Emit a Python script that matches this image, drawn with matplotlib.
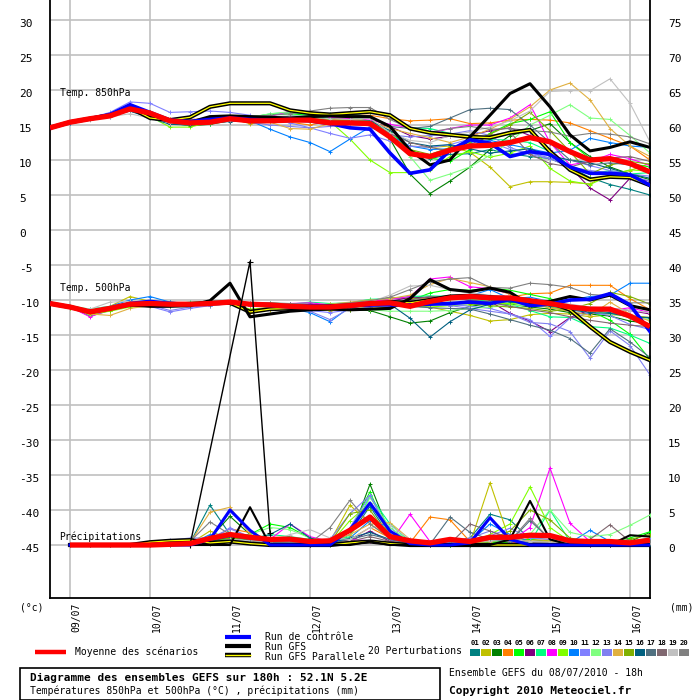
import matplotlib
matplotlib.use('Agg')
import matplotlib.pyplot as plt
from matplotlib.patches import Rectangle
from matplotlib.lines import Line2D
from matplotlib.transforms import ScaledTranslation

nan = float('nan')
hours = list(range(0, 181, 6))

dates = ['09/07', '10/07', '11/07', '12/07', '13/07', '14/07', '15/07', '16/07']
date_hours = [6, 30, 54, 78, 102, 126, 150, 174]
left_ticks = list(range(30, -50, -5))
right_ticks = list(range(75, -5, -5))

pert_names = ['%02d' % i for i in range(1, 21)]
pert_colors = ['#008080', '#c0c000', '#008000', '#ff8000', '#00ff00', '#800080', '#00ff80',
               '#ff00ff', '#80ff00', '#0080ff', '#8080ff', '#80ff80', '#8080f0', '#e0b040',
               '#80b000', '#006080', '#507080', '#806870', '#c0c0c0', '#808080']

# ---------------- Temperature 850 hPa (deg C) ----------------
mean_850 = [14.6, 15.4, 15.9, 16.3, 17.3, 16.7, 15.6, 15.3, 15.4, 15.9, 15.6, 15.6, 15.7, 15.7, 15.3, 15.3,
            15.2, 13.3, 10.9, 10.5, 11.4, 12.0, 12.1, 12.5, 13.2, 12.6, 11.2, 10.0, 10.2, 9.5, 8.3]
ctrl_850 = [14.6, 15.4, 15.9, 16.5, 17.9, 16.8, 15.7, 15.5, 15.8, 16.0, 15.8, 15.7, 15.8, 15.6, 15.2, 14.6,
            14.4, 11.0, 8.1, 8.6, 11.4, 12.9, 12.4, 10.5, 11.2, 10.8, 9.0, 8.1, 8.1, 7.9, 6.4]
gfs_850 = [14.6, 15.4, 15.9, 16.4, 17.4, 16.6, 15.5, 15.4, 16.2, 16.3, 16.2, 16.1, 16.0, 16.2, 16.3, 16.2,
           16.2, 14.8, 11.4, 9.3, 10.0, 13.3, 16.4, 19.5, 20.9, 17.6, 13.6, 11.3, 11.8, 12.6, 11.8]
par_850 = [14.6, 15.4, 15.9, 16.4, 17.5, 16.0, 15.7, 16.1, 17.6, 18.1, 18.1, 18.1, 17.1, 16.7, 16.5, 16.7,
           16.9, 16.4, 14.5, 13.9, 13.6, 13.3, 13.2, 13.9, 14.3, 11.2, 8.6, 7.2, 7.6, 7.5, 6.4]
pert_850 = [
    [14.6, 15.3, 15.8, 16.4, 17.0, 16.2, 15.4, 15.2, 15.6, 15.9, 15.5, 15.8, 16.3, 16.2, 16.0, 15.8, 15.6, 13.5, 11.0, 10.2, 10.8, 10.9, 11.5, 10.9, 10.5, 10.2, 9.0, 7.5, 6.5, 5.8, 5.0],
    [14.6, 15.4, 16.0, 16.5, 17.6, 16.8, 15.9, 15.5, 15.7, 16.0, 15.2, 15.4, 15.6, 15.5, 15.7, 15.9, 15.5, 13.0, 12.0, 11.8, 12.0, 11.1, 9.0, 6.2, 6.9, 6.9, 6.8, 6.6, 8.0, 8.5, 9.5],
    [14.6, 15.4, 15.9, 16.3, 17.2, 16.5, 15.3, 14.9, 15.1, 15.6, 15.8, 15.9, 15.6, 16.0, 15.9, 16.1, 16.0, 13.0, 8.0, 5.2, 7.0, 9.0, 11.5, 13.5, 14.2, 15.2, 12.5, 10.5, 9.0, 8.0, 7.2],
    [14.6, 15.4, 15.9, 16.5, 17.5, 16.9, 15.8, 15.8, 15.9, 15.8, 15.3, 15.5, 15.4, 15.0, 15.6, 16.4, 16.4, 15.9, 15.6, 15.7, 15.9, 15.2, 15.3, 15.7, 15.8, 15.7, 15.3, 14.2, 13.1, 12.0, 10.0],
    [14.6, 15.4, 15.9, 16.4, 17.4, 16.4, 15.3, 15.0, 15.2, 15.8, 16.2, 16.5, 16.6, 16.4, 16.1, 15.9, 15.6, 14.0, 11.5, 10.3, 9.8, 11.5, 13.8, 15.2, 15.8, 16.9, 12.5, 10.2, 10.0, 9.5, 9.0],
    [14.6, 15.4, 15.9, 16.4, 17.4, 16.8, 15.6, 15.4, 15.6, 16.0, 16.1, 16.2, 16.0, 15.8, 15.5, 15.6, 15.3, 14.8, 13.5, 13.0, 13.4, 13.5, 14.2, 14.6, 13.5, 11.5, 9.0, 6.0, 4.3, 7.4, 7.0],
    [14.6, 15.4, 15.9, 16.4, 17.3, 16.5, 15.4, 15.2, 15.4, 15.6, 16.0, 16.6, 16.8, 16.5, 16.6, 16.3, 16.9, 16.4, 14.6, 14.5, 13.8, 13.5, 13.0, 12.8, 12.5, 11.2, 9.2, 8.0, 8.5, 8.0, 8.2],
    [14.6, 15.4, 15.9, 16.5, 17.4, 16.7, 15.4, 15.3, 15.6, 15.8, 15.7, 16.2, 17.0, 16.7, 16.1, 15.9, 15.7, 15.1, 14.6, 13.8, 14.5, 15.0, 15.0, 16.0, 17.9, 12.5, 9.3, 9.8, 10.8, 10.2, 9.2],
    [14.6, 15.4, 15.8, 16.3, 17.1, 16.2, 14.7, 14.7, 15.4, 15.6, 15.9, 16.2, 15.9, 16.3, 15.5, 13.0, 10.0, 8.2, 8.2, 8.6, 10.5, 11.2, 10.4, 11.0, 12.0, 8.8, 7.0, 6.5, 7.8, 8.6, 8.4],
    [14.6, 15.3, 15.8, 16.2, 17.0, 16.5, 15.5, 15.4, 15.5, 15.7, 15.6, 14.4, 13.3, 12.5, 11.2, 13.0, 14.7, 13.5, 12.0, 11.5, 11.6, 12.6, 12.8, 12.2, 11.6, 11.0, 11.4, 13.1, 12.5, 12.0, 11.8],
    [14.6, 15.5, 16.0, 16.8, 18.3, 18.1, 16.8, 16.9, 17.0, 16.8, 16.4, 15.8, 15.3, 14.6, 13.8, 13.1, 13.6, 12.7, 12.0, 11.8, 12.2, 13.0, 12.6, 11.5, 11.0, 10.3, 10.0, 9.2, 8.5, 8.0, 7.7],
    [14.6, 15.4, 15.9, 16.4, 17.3, 16.4, 15.2, 15.0, 15.3, 15.7, 16.1, 16.6, 16.9, 16.8, 16.3, 16.1, 15.5, 13.8, 10.5, 7.1, 8.0, 9.0, 10.7, 12.6, 15.0, 16.4, 17.9, 16.0, 15.8, 13.5, 11.0],
    [14.6, 15.4, 15.9, 16.3, 17.2, 16.3, 15.2, 15.2, 15.5, 15.7, 15.4, 15.0, 14.8, 14.6, 14.8, 15.1, 14.9, 13.6, 13.3, 13.5, 13.7, 14.2, 13.5, 11.8, 10.8, 10.2, 9.0, 8.5, 8.2, 7.7, 7.0],
    [14.6, 15.4, 15.9, 16.4, 17.6, 16.9, 15.6, 15.4, 15.9, 16.3, 15.9, 15.4, 14.5, 14.4, 15.2, 15.8, 15.6, 14.5, 13.8, 13.2, 12.5, 13.3, 14.4, 15.8, 17.6, 20.0, 21.0, 18.6, 14.5, 12.0, 10.5],
    [14.6, 15.4, 15.9, 16.3, 17.2, 16.4, 15.3, 15.2, 15.4, 15.8, 15.6, 15.9, 16.1, 15.9, 15.7, 15.6, 15.2, 13.5, 11.5, 10.8, 11.8, 12.5, 13.7, 15.0, 16.8, 14.2, 11.2, 8.0, 9.3, 9.8, 9.4],
    [14.6, 15.4, 15.9, 16.4, 17.0, 16.0, 15.1, 15.0, 15.3, 15.5, 15.6, 15.7, 16.0, 15.8, 15.2, 15.5, 15.6, 14.2, 12.5, 12.0, 12.2, 11.6, 11.0, 11.3, 11.6, 10.6, 10.0, 9.6, 8.8, 8.0, 7.4],
    [14.6, 15.4, 15.9, 16.3, 17.2, 16.4, 15.5, 15.3, 15.6, 15.8, 15.9, 16.2, 16.0, 16.3, 16.4, 16.6, 16.2, 14.8, 14.5, 14.8, 16.0, 17.2, 17.4, 17.2, 15.0, 12.5, 10.0, 9.3, 9.6, 9.3, 8.5],
    [14.6, 15.4, 15.9, 16.3, 17.1, 16.3, 15.3, 15.2, 15.4, 15.6, 15.5, 15.7, 15.8, 16.0, 15.6, 15.4, 15.5, 13.8, 12.5, 11.8, 11.3, 12.2, 13.5, 14.0, 10.8, 9.5, 9.0, 9.8, 10.3, 10.5, 9.8],
    [14.6, 15.4, 15.7, 16.2, 16.6, 16.0, 15.3, 15.3, 15.5, 15.9, 16.0, 16.2, 16.3, 16.1, 15.9, 15.8, 16.0, 13.9, 12.8, 12.5, 13.5, 14.0, 14.7, 15.6, 17.0, 19.8, 19.9, 19.9, 21.6, 18.1, 12.6],
    [14.6, 15.4, 15.9, 16.4, 17.3, 16.6, 15.6, 15.6, 15.9, 16.0, 16.2, 16.4, 16.6, 17.0, 17.4, 17.5, 17.5, 15.8, 14.5, 14.0, 14.5, 14.8, 14.4, 14.5, 14.2, 14.0, 13.4, 13.8, 13.7, 13.3, 12.3],
]

# ---------------- Temperature 500 hPa (deg C) ----------------
mean_500 = [-10.5, -11.0, -11.7, -11.2, -10.6, -10.5, -10.6, -10.6, -10.5, -10.3, -10.6, -10.7, -10.9, -11.0, -11.0, -10.8,
            -10.5, -10.4, -10.9, -10.2, -9.7, -9.5, -9.7, -9.7, -10.1, -10.5, -11.0, -11.3, -11.3, -12.3, -13.8]
ctrl_500 = [-10.5, -11.0, -11.7, -11.2, -10.5, -10.2, -10.5, -10.6, -10.5, -10.3, -10.6, -10.8, -11.0, -10.8, -10.9, -10.8,
            -10.7, -10.7, -10.7, -10.6, -10.5, -10.3, -10.5, -9.9, -10.8, -10.6, -10.0, -9.9, -9.1, -10.7, -14.5]
gfs_500 = [-10.5, -11.0, -11.6, -11.2, -10.7, -10.9, -10.9, -10.8, -10.1, -7.6, -12.4, -12.0, -11.6, -11.4, -11.3, -11.4,
           -11.3, -11.2, -9.8, -7.1, -8.5, -8.8, -8.3, -8.9, -10.7, -10.2, -9.5, -10.0, -9.3, -10.8, -11.4]
par_500 = [-10.5, -11.0, -11.7, -11.2, -10.6, -10.6, -10.7, -10.6, -10.4, -10.4, -11.7, -11.3, -11.2, -11.0, -10.9, -10.8,
           -10.6, -10.3, -10.4, -10.0, -9.5, -9.4, -9.6, -9.8, -10.4, -10.3, -11.4, -13.8, -16.0, -17.4, -18.6]
pert_500 = [
    [-10.4, -10.9, -11.5, -11.0, -10.4, -10.2, -10.3, -10.5, -10.4, -10.2, -10.4, -10.5, -10.6, -10.6, -10.9, -10.6, -10.3, -9.8, -9.8, -9.6, -9.4, -9.6, -10.0, -10.3, -10.7, -11.0, -11.5, -11.5, -11.8, -12.3, -12.6],
    [-10.5, -11.0, -11.6, -10.9, -9.5, -10.2, -10.5, -10.4, -10.6, -10.5, -11.8, -11.4, -11.2, -11.4, -11.5, -11.3, -11.0, -10.8, -10.7, -11.0, -11.6, -12.2, -13.0, -12.8, -12.1, -11.9, -12.0, -12.4, -12.1, -12.2, -12.5],
    [-10.5, -11.1, -11.8, -11.3, -10.8, -10.6, -10.7, -10.8, -10.6, -10.4, -10.8, -11.0, -11.2, -11.3, -11.1, -11.4, -11.5, -12.4, -13.3, -13.0, -11.8, -10.9, -10.5, -10.6, -11.0, -11.3, -11.8, -12.0, -12.3, -13.0, -13.4],
    [-10.5, -11.0, -11.6, -11.3, -10.8, -10.5, -10.5, -10.4, -10.3, -10.1, -10.5, -10.6, -10.8, -10.9, -11.0, -10.6, -10.3, -9.6, -9.8, -9.7, -9.4, -9.8, -9.9, -9.6, -9.1, -9.0, -7.9, -7.9, -7.9, -9.8, -11.4],
    [-10.5, -11.0, -12.3, -11.5, -10.8, -10.4, -10.8, -10.9, -10.6, -10.5, -10.7, -10.5, -10.6, -10.7, -10.8, -10.7, -10.5, -10.2, -10.1, -9.0, -8.5, -8.6, -8.3, -8.6, -9.2, -9.8, -10.8, -11.5, -12.9, -14.9, -18.5],
    [-10.5, -11.0, -11.6, -11.1, -10.5, -10.4, -10.5, -10.5, -10.3, -10.2, -10.7, -10.8, -11.0, -11.1, -11.3, -11.0, -10.8, -10.2, -9.6, -9.6, -9.5, -10.1, -10.2, -11.9, -13.0, -14.5, -12.5, -11.4, -11.2, -11.5, -12.0],
    [-10.5, -10.9, -11.4, -11.0, -10.5, -10.5, -10.6, -10.3, -10.2, -10.2, -10.6, -10.4, -10.6, -10.3, -10.5, -10.4, -9.9, -9.8, -9.5, -9.4, -9.5, -9.9, -10.2, -10.6, -11.5, -12.4, -12.5, -13.8, -14.0, -15.0, -16.2],
    [-10.5, -11.0, -12.4, -11.4, -10.7, -10.4, -10.6, -10.7, -10.7, -10.6, -10.8, -10.9, -10.5, -10.4, -10.7, -10.5, -10.2, -9.9, -9.5, -7.0, -6.7, -8.1, -8.4, -9.1, -10.2, -10.2, -11.4, -11.3, -11.5, -11.1, -11.8],
    [-10.5, -11.1, -12.0, -11.6, -11.0, -10.9, -10.8, -10.6, -10.4, -10.5, -11.3, -11.1, -11.0, -10.8, -10.6, -10.7, -10.6, -10.6, -10.9, -11.0, -10.8, -10.7, -10.5, -10.5, -10.6, -11.1, -11.5, -11.2, -11.3, -12.6, -13.5],
    [-10.6, -11.0, -11.3, -10.9, -10.0, -9.5, -10.3, -10.5, -10.5, -10.3, -10.5, -10.8, -11.2, -11.8, -13.1, -11.0, -10.4, -10.5, -10.2, -10.0, -9.6, -9.4, -8.5, -9.8, -9.6, -10.2, -10.0, -9.5, -9.3, -7.6, -7.6],
    [-10.5, -11.0, -11.6, -11.3, -10.8, -10.9, -11.7, -11.2, -10.8, -10.5, -10.6, -10.8, -11.1, -11.5, -11.8, -11.4, -11.0, -10.4, -10.2, -10.5, -10.6, -10.9, -11.2, -12.0, -12.8, -15.2, -12.6, -11.8, -12.2, -13.5, -14.2],
    [-10.4, -10.8, -11.3, -10.9, -10.5, -10.6, -10.9, -10.8, -10.5, -10.3, -10.6, -10.8, -10.7, -10.9, -11.2, -11.0, -11.4, -11.6, -11.6, -11.6, -11.5, -11.2, -11.0, -10.8, -10.7, -10.9, -11.3, -11.5, -12.0, -12.4, -12.8],
    [-10.5, -11.0, -11.5, -11.2, -10.6, -10.7, -11.5, -11.0, -10.8, -10.5, -10.6, -10.7, -10.9, -11.6, -12.8, -11.2, -10.6, -10.4, -10.5, -10.6, -10.8, -11.2, -11.6, -12.0, -13.2, -13.4, -14.5, -18.3, -14.4, -16.5, -20.7],
    [-10.5, -11.1, -12.0, -12.2, -11.2, -10.8, -10.6, -10.5, -10.4, -10.3, -11.9, -11.2, -10.9, -10.8, -10.6, -10.3, -10.0, -9.8, -9.3, -7.8, -6.9, -7.5, -8.1, -9.2, -10.4, -11.1, -11.6, -12.2, -10.3, -12.0, -13.0],
    [-10.5, -11.0, -11.7, -11.4, -10.9, -10.7, -10.8, -10.8, -10.7, -10.6, -11.4, -11.2, -11.0, -11.0, -11.2, -11.4, -11.3, -11.0, -10.8, -10.5, -10.3, -10.5, -10.8, -11.0, -11.2, -11.6, -11.3, -10.5, -8.9, -9.5, -10.6],
    [-10.5, -11.0, -11.6, -11.1, -10.6, -10.6, -10.7, -10.7, -10.6, -10.4, -10.5, -10.7, -10.9, -11.1, -11.2, -10.8, -10.4, -10.6, -12.6, -15.3, -13.1, -11.4, -10.6, -10.2, -10.5, -10.8, -11.4, -11.8, -11.9, -12.4, -12.5],
    [-10.5, -11.0, -11.5, -11.0, -10.5, -10.3, -10.4, -10.5, -10.4, -10.2, -10.4, -10.6, -10.7, -10.8, -10.8, -10.6, -10.6, -10.5, -10.9, -11.1, -11.2, -11.3, -12.0, -12.8, -13.6, -14.3, -15.5, -17.6, -14.1, -16.0, -18.2],
    [-10.5, -11.0, -11.6, -11.2, -10.7, -10.6, -10.8, -10.7, -10.5, -10.3, -10.6, -10.6, -10.8, -10.9, -10.8, -10.5, -10.4, -10.3, -10.0, -9.5, -9.7, -10.0, -10.3, -10.9, -11.4, -11.8, -12.4, -12.9, -13.3, -13.6, -13.8],
    [-10.5, -10.9, -11.3, -10.3, -10.2, -10.4, -10.6, -10.5, -10.4, -10.2, -10.4, -10.6, -10.8, -10.9, -10.9, -10.7, -10.3, -9.3, -8.0, -7.9, -8.5, -9.0, -9.3, -9.7, -9.9, -10.1, -10.6, -11.0, -11.2, -11.5, -11.8],
    [-10.5, -11.0, -11.5, -11.0, -10.4, -10.3, -10.4, -10.4, -10.3, -10.2, -10.5, -10.4, -10.5, -10.6, -10.7, -10.4, -10.1, -9.6, -8.5, -7.4, -7.0, -6.8, -8.2, -8.3, -7.6, -7.8, -8.2, -9.2, -9.4, -10.4, -10.4],
]

# ---------------- Precipitation (mm, right axis) ----------------
mean_pr = [nan, 0, 0, 0, 0, 0, 0.1, 0.2, 0.95, 1.5, 1.1, 0.8, 0.85, 0.5, 0.6, 2.1,
           4.0, 1.2, 0.6, 0.3, 0.8, 0.5, 1.1, 1.1, 1.4, 1.35, 0.6, 0.5, 0.5, 0.3, 0.7]
ctrl_pr = [nan, 0, 0, 0, 0, 0, 0, 0, 0.8, 5.0, 2.1, 0, 0, 0, 0, 2.2,
           6.0, 2.0, 0.2, 0, 0, 0.3, 3.9, 0.8, 0, 0, 0, 0, 0, 0, 0]
gfs_pr = [nan, 0, 0, 0, 0, 0, 0, 0, 0, 0, 5.4, 0, 0, 0, 0, 0,
          0.5, 0, 0, 0, 0, 0, 0, 0.8, 6.3, 0.8, 0, 0, 0, 1.4, 1.2]
par_pr = [nan, 0, 0, 0, 0, 0.4, 0.6, 0.7, 0.3, 0.5, 0.2, 0, 0, 0, 0, 0.3,
          0.5, 0.2, 0, 0, 0, 0, 0, 0, 0, 0, 0, 0, 0, 0, 0]
spike_hours = [42, 60, 66]
spike_pr = [0, 40.5, 1.7]
pert_pr = [
    [nan, 0, 0, 0, 0, 0, 0, 0.3, 5.7, 1.5, 0.5, 0.3, 0.2, 0, 0.2, 1.5, 5.5, 1.2, 0.3, 0, 0.5, 1.0, 4.4, 3.6, 0.8, 0.5, 0.2, 0, 0, 0.3, 0.5],
    [nan, 0, 0, 0, 0, 0, 0, 0.2, 2.0, 0.8, 0.3, 0.5, 0.2, 0, 0.5, 5.7, 3.0, 1.0, 0.2, 0, 0, 0.2, 8.9, 0.5, 0.8, 0.6, 0.3, 0, 0, 0.5, 0.8],
    [nan, 0, 0, 0, 0, 0, 0, 0.1, 1.0, 4.1, 1.5, 0.3, 0.2, 0, 0, 1.0, 8.7, 1.5, 0.5, 0.2, 0, 0, 0.5, 0.3, 0.3, 0.5, 0.3, 0.2, 0, 0.5, 1.8],
    [nan, 0, 0, 0, 0, 0, 0, 0.2, 0.8, 2.3, 1.8, 0.8, 0.5, 0.2, 0.3, 0.8, 2.5, 1.0, 0.3, 4.0, 3.6, 0.5, 0.3, 0.2, 1.0, 0.8, 0.5, 0.2, 0.1, 0.2, 0.4],
    [nan, 0, 0, 0, 0, 0, 0, 0, 0.5, 1.2, 1.5, 3.0, 2.5, 1.0, 0.5, 2.0, 7.6, 1.0, 0.2, 0, 0, 0.2, 0.3, 0.5, 0.8, 1.2, 0.8, 0.5, 0.5, 1.0, 1.9],
    [nan, 0, 0, 0, 0, 0, 0, 0, 0.3, 0.8, 0.5, 0.2, 0.2, 0, 0.1, 0.5, 2.0, 0.5, 0.2, 0, 0.2, 0.5, 0.8, 0.5, 0.3, 0.2, 0.1, 0, 0, 0.2, 0.5],
    [nan, 0, 0, 0, 0, 0, 0, 0, 0.4, 1.0, 0.8, 1.5, 1.2, 0.8, 0.5, 1.2, 7.0, 3.0, 0.5, 0.2, 0.1, 0.3, 0.5, 0.6, 0.4, 5.0, 0.5, 0.3, 0.2, 0.5, 1.0],
    [nan, 0, 0, 0, 0, 0, 0.1, 0.2, 0.5, 1.2, 1.0, 0.8, 3.0, 1.2, 0.5, 0.8, 0.6, 0.3, 4.4, 0.5, 0.2, 0.2, 1.0, 0.5, 2.5, 11.0, 3.1, 0.5, 0.2, 0.3, 0.5],
    [nan, 0, 0, 0, 0, 0, 0, 0, 0.3, 0.8, 0.5, 0.3, 0.5, 0.3, 0.2, 3.5, 6.0, 1.5, 0.3, 0.1, 0.1, 0.3, 1.5, 3.0, 8.3, 2.5, 0.5, 0.3, 0.1, 0.3, 0.5],
    [nan, 0, 0, 0, 0, 0, 0, 0.1, 1.5, 0.8, 0.3, 0.2, 0.5, 0.3, 0.2, 1.0, 3.5, 2.5, 0.3, 0.1, 0.2, 0.5, 3.0, 1.5, 0.5, 0.5, 0.3, 2.1, 0.5, 0.2, 0.3],
    [nan, 0, 0, 0, 0, 0, 0, 0, 0.5, 2.5, 1.0, 0.6, 0.5, 0.3, 0.2, 2.5, 7.1, 2.0, 0.5, 0.2, 0.6, 0.8, 1.3, 2.4, 1.0, 0.8, 0.4, 0.2, 0.2, 0.4, 0.8],
    [nan, 0, 0, 0, 0, 0, 0, 0, 0.2, 0.5, 1.5, 2.5, 2.2, 1.0, 0.5, 1.0, 6.8, 2.5, 0.5, 0.2, 0.2, 0.5, 0.8, 1.0, 1.5, 5.0, 1.8, 1.2, 1.5, 2.8, 4.3],
    [nan, 0, 0, 0, 0, 0, 0.7, 1.0, 1.0, 2.3, 1.2, 0.5, 0.4, 0.3, 0.8, 4.5, 7.1, 1.5, 0.3, 0.1, 0.3, 1.0, 2.0, 0.8, 0.5, 0.3, 0.2, 0.1, 0.1, 0.3, 0.6],
    [nan, 0, 0, 0, 0, 0, 0.1, 0.3, 4.7, 5.4, 1.5, 0.5, 0.3, 0.2, 0.3, 1.5, 3.0, 3.2, 0.8, 0.3, 0.2, 0.3, 0.5, 0.8, 0.6, 0.5, 0.3, 0.2, 0.1, 0.2, 0.4],
    [nan, 0, 0, 0, 0, 0, 0, 0, 0.5, 1.0, 0.8, 0.5, 0.3, 0.2, 0.3, 4.5, 5.0, 1.0, 0.3, 0.1, 0.1, 0.2, 0.8, 2.0, 5.0, 3.6, 1.0, 0.5, 0.3, 0.8, 1.5],
    [nan, 0, 0, 0, 0, 0, 0, 0, 0.5, 1.2, 0.8, 1.5, 3.0, 1.0, 0.3, 1.0, 1.8, 0.8, 0.2, 0.1, 0.2, 0.5, 1.0, 0.8, 0.4, 0.3, 0.2, 0.1, 0.1, 0.1, 0.2],
    [nan, 0, 0, 0, 0, 0, 0, 0, 0.3, 0.8, 0.6, 0.4, 0.3, 0.2, 0.2, 0.8, 1.5, 0.8, 0.2, 0.1, 4.0, 1.8, 0.8, 0.5, 3.5, 0.8, 0.5, 0.3, 0.2, 0.3, 0.5],
    [nan, 0, 0, 0, 0, 0, 0, 0, 0.2, 0.6, 0.5, 0.3, 0.2, 0.1, 0.2, 0.5, 1.2, 0.5, 0.2, 0.1, 0.2, 3.0, 2.0, 1.0, 0.4, 0.3, 0.2, 0.8, 2.9, 0.5, 0.3],
    [nan, 0, 0, 0, 0, 0, 0, 0, 0.3, 0.8, 0.6, 0.5, 1.5, 2.2, 1.0, 0.8, 2.5, 2.8, 0.8, 0.3, 0.2, 0.4, 0.6, 0.8, 0.5, 0.4, 0.3, 0.2, 0.1, 0.2, 0.4],
    [nan, 0, 0, 0, 0, 0, 0.2, 0.5, 3.3, 1.5, 0.8, 0.5, 0.4, 0.3, 2.5, 6.4, 3.0, 1.0, 0.3, 0.1, 0.2, 0.4, 0.8, 0.6, 3.8, 0.8, 0.3, 0.2, 0.1, 0.3, 0.6],
]

# ---------------- figure ----------------
MONO = 'DejaVu Sans Mono'
plt.rcParams['font.family'] = [MONO]
W = H = 700.0
fig = plt.figure(figsize=(7, 7), dpi=100)
fig.patch.set_facecolor('white')

def fx(px):
    return px / W

def fy(py):
    return 1 - py / H

ax = fig.add_axes([fx(50), fy(598), 600 / W, 598 / H])
ylo, yhi = -52.57, 32.86
ax.set_xlim(0, 180)
ax.set_ylim(ylo, yhi)
ax2 = ax.twinx()
ax2.set_ylim(ylo + 45, yhi + 45)

grid_c = '#c0c0c0'
ax.set_yticks(left_ticks)
ax.set_yticklabels([str(v) for v in left_ticks])
ax.set_xticks(date_hours)
ax.set_xticklabels(dates, rotation=90, ha='left', va='top')
ax.grid(True, color=grid_c, lw=1.2, zorder=0)
ax.set_axisbelow(True)
ax.tick_params(axis='y', length=0, pad=22.5, labelsize=8)
ax.tick_params(axis='x', length=0, pad=3.5, labelsize=7)
shift_down = ScaledTranslation(0, -2.5 / 100, fig.dpi_scale_trans)
shift_right = ScaledTranslation(1.5 / 100, 0, fig.dpi_scale_trans)
for t in ax.get_yticklabels():
    t.set_horizontalalignment('left')
    t.set_transform(t.get_transform() + shift_down)
for t in ax.get_xticklabels():
    t.set_transform(t.get_transform() + shift_right)

ax2.set_yticks(right_ticks)
ax2.set_yticklabels([str(v) for v in right_ticks])
ax2.tick_params(axis='y', length=0, pad=13, labelsize=8)
for t in ax2.get_yticklabels():
    t.set_transform(t.get_transform() + shift_down)

ax.spines['top'].set_visible(False)
for sp in ['left', 'right', 'bottom']:
    ax.spines[sp].set_color('black')
    ax.spines[sp].set_linewidth(1.3)
for sp in ax2.spines.values():
    sp.set_visible(False)

# perturbations
for c, s8, s5 in zip(pert_colors, pert_850, pert_500):
    ax.plot(hours, s8, color=c, lw=0.8, marker='+', ms=3, mew=0.7, zorder=2)
    ax.plot(hours, s5, color=c, lw=0.8, marker='+', ms=3, mew=0.7, zorder=2)
for c, sp in zip(pert_colors, pert_pr):
    ax2.plot(hours, sp, color=c, lw=0.8, marker='+', ms=3, mew=0.7, zorder=2)

# parallel run (black with yellow core)
for a, s in [(ax, par_850), (ax, par_500), (ax2, par_pr)]:
    a.plot(hours, s, color='black', lw=3.0, zorder=3)
    a.plot(hours, s, color='#ffff00', lw=0.9, zorder=3.05)
# GFS
ax.plot(hours, gfs_850, color='black', lw=2.2, zorder=3.2)
ax.plot(hours, gfs_500, color='black', lw=2.2, zorder=3.2)
ax2.plot(hours, gfs_pr, color='black', lw=1.5, zorder=3.2)
ax2.plot(spike_hours, spike_pr, color='black', lw=1.0, marker='+', ms=4, mew=0.8, zorder=3.2)
# control
ax.plot(hours, ctrl_850, color='#0000ff', lw=2.6, zorder=3.3)
ax.plot(hours, ctrl_500, color='#0000ff', lw=2.6, zorder=3.3)
ax2.plot(hours, ctrl_pr, color='#0000ff', lw=2.2, zorder=3.3)
# mean
ax.plot(hours, mean_850, color='#ff0000', lw=3.8, zorder=3.4, solid_capstyle='butt')
ax.plot(hours, mean_500, color='#ff0000', lw=3.8, zorder=3.4, solid_capstyle='butt')
ax2.plot(hours, mean_pr, color='#ff0000', lw=3.8, zorder=3.4, solid_capstyle='butt')

# in-plot labels
fs = 7
fig.text(fx(60), fy(93), 'Temp. 850hPa', fontsize=fs, va='center', ha='left')
fig.text(fx(60), fy(288), 'Temp. 500hPa', fontsize=fs, va='center', ha='left')
fig.text(fx(59), fy(537), 'Précipitations', fontsize=fs, va='center', ha='left')
fig.text(fx(20), fy(607), '(°c)', fontsize=fs, va='center', ha='left')
fig.text(fx(670), fy(607), '(mm)', fontsize=fs, va='center', ha='left')

# legend
def hline(x0, x1, y, color, lw):
    fig.add_artist(Line2D([fx(x0), fx(x1)], [fy(y), fy(y)], color=color, lw=lw,
                          transform=fig.transFigure, solid_capstyle='butt'))

hline(35, 66, 652, '#ff0000', 3.2)
fig.text(fx(75), fy(652), 'Moyenne des scénarios', fontsize=fs, va='center', ha='left')
hline(225, 251, 637, '#0000ff', 3.0)
hline(225, 251, 646, 'black', 3.0)
hline(225, 251, 655, 'black', 3.2)
hline(225, 251, 655, '#ffff00', 1.0)
fig.text(fx(265), fy(637), 'Run de contrôle', fontsize=fs, va='center', ha='left')
fig.text(fx(265), fy(647), 'Run GFS', fontsize=fs, va='center', ha='left')
fig.text(fx(265), fy(657), 'Run GFS Parallele', fontsize=fs, va='center', ha='left')
fig.text(fx(368), fy(651), '20 Perturbations', fontsize=fs, va='center', ha='left')
for k, (name, c) in enumerate(zip(pert_names, pert_colors)):
    x0 = 470 + 11 * k
    fig.add_artist(Rectangle((fx(x0), fy(656)), 10 / W, 7 / H, facecolor=c, edgecolor='none',
                             transform=fig.transFigure))
    fig.text(fx(x0 + 5), fy(643), name, fontsize=5.2, va='center', ha='center', fontweight='bold')

# bottom box
fig.add_artist(Rectangle((fx(20), fy(699.5)), 420 / W, 32 / H, facecolor='none', edgecolor='black',
                         lw=1.2, transform=fig.transFigure))
fig.text(fx(30), fy(678), 'Diagramme des ensembles GEFS sur 180h : 52.1N 5.2E', fontsize=8,
         fontweight='bold', va='center', ha='left')
fig.text(fx(30), fy(691), 'Températures 850hPa et 500hPa (°C) , précipitations (mm)', fontsize=fs,
         va='center', ha='left')
fig.text(fx(449), fy(673), 'Ensemble GEFS du 08/07/2010 - 18h', fontsize=fs, va='center', ha='left')
fig.text(fx(449), fy(691), 'Copyright 2010 Meteociel.fr', fontsize=8, fontweight='bold',
         va='center', ha='left')

fig.savefig('out.png', dpi=100)
